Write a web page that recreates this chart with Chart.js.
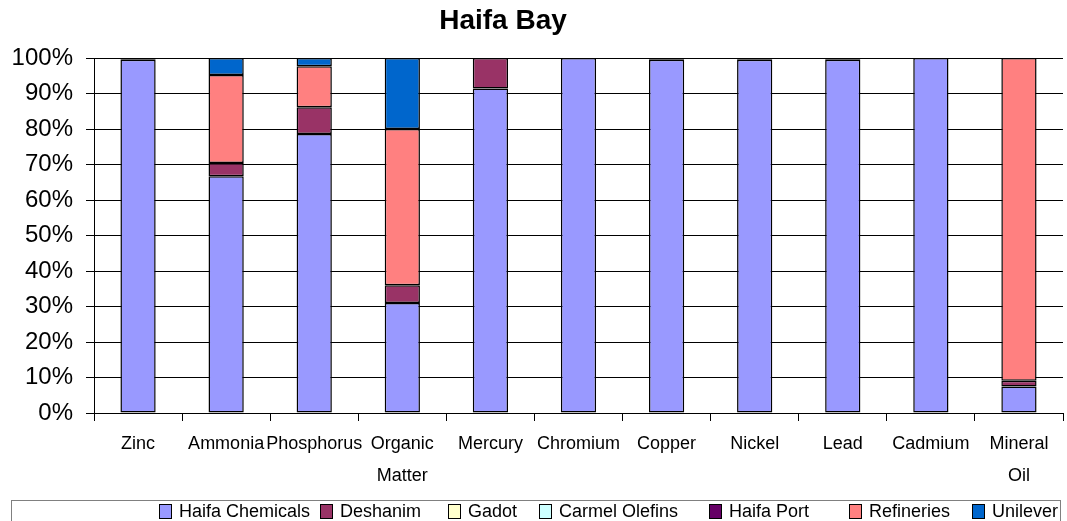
<!DOCTYPE html>
<html>
<head>
<meta charset="utf-8">
<title>Haifa Bay</title>
<script src="https://cdn.jsdelivr.net/npm/chart.js@4/dist/chart.umd.min.js"></script>
<style>
  html, body { margin: 0; padding: 0; background: #fff; }
  canvas { display: block; }
</style>
</head>
<body>
<canvas id="chart" width="1067" height="521"></canvas>
<script>
// categories (x axis)
const categories = ['Zinc', 'Ammonia', 'Phosphorus', ['Organic', 'Matter'], 'Mercury', 'Chromium',
  'Copper', 'Nickel', 'Lead', 'Cadmium', ['Mineral', 'Oil']];

// share of each source, percent
const haifaChemicals = [99.5, 66.7, 78.6, 31, 91.4, 100, 99.5, 99.5, 99.5, 100, 7.5];
const deshanim = [0, 3.7, 7.5, 5, 8.6, 0, 0, 0, 0, 0, 1.6];
const gadot = [0, 0, 0, 0, 0, 0, 0, 0, 0, 0, 0];
const carmelOlefins = [0, 0, 0, 0, 0, 0, 0, 0, 0, 0, 0];
const haifaPort = [0.5, 0, 0, 0, 0, 0, 0.5, 0.5, 0.5, 0, 0];
const refineries = [0, 24.8, 11.6, 44, 0, 0, 0, 0, 0, 0, 90.9];
const unilever = [0, 4.8, 2.3, 20, 0, 0, 0, 0, 0, 0, 0];

const seriesNames = ['Haifa Chemicals', 'Deshanim', 'Gadot', 'Carmel Olefins', 'Haifa Port', 'Refineries', 'Unilever'];
const seriesValues = [haifaChemicals, deshanim, gadot, carmelOlefins, haifaPort, refineries, unilever];
const seriesColors = ['#9999FF', '#993366', '#FFFFCC', '#CCFFFF', '#660066', '#FF8080', '#0066CC'];

// y axis ticks
const yTicks = [0, 10, 20, 30, 40, 50, 60, 70, 80, 90, 100];

// where each legend entry starts (Excel spaces them unevenly)
const legendX = [159, 320, 448, 539, 709, 849, 972];

Chart.defaults.font.family = '"Liberation Sans", Arial, sans-serif';
Chart.defaults.color = '#000';

// title and boxed legend, drawn the way Excel places them
const excelBits = {
  id: 'excelBits',
  afterDraw(chart) {
    const ctx = chart.ctx;
    ctx.save();
    ctx.fillStyle = '#000';
    ctx.font = 'bold 28px "Liberation Sans", Arial, sans-serif';
    ctx.textAlign = 'center';
    ctx.textBaseline = 'middle';
    ctx.fillText('Haifa Bay', 503, 21);

    // legend frame
    ctx.strokeStyle = '#808080';
    ctx.lineWidth = 1;
    ctx.strokeRect(11.5, 500.5, 1049, 30);

    ctx.font = '18px "Liberation Sans", Arial, sans-serif';
    ctx.textAlign = 'left';
    chart.data.datasets.forEach((ds, i) => {
      const x = legendX[i];
      ctx.fillStyle = ds.backgroundColor;
      ctx.fillRect(x + 0.5, 504.5, 12, 14);
      ctx.strokeStyle = '#000';
      ctx.strokeRect(x + 0.5, 504.5, 12, 14);
      ctx.fillStyle = '#000';
      ctx.fillText(ds.label, x + 20, 512);
    });
    ctx.restore();
  }
};

new Chart(document.getElementById('chart'), {
  type: 'bar',
  data: {
    labels: categories,
    datasets: seriesNames.map((name, i) => ({
      label: name,
      data: seriesValues[i],
      backgroundColor: seriesColors[i],
      borderColor: '#000',
      borderWidth: 1.5,
      borderSkipped: false,
      barPercentage: 0.4,
      categoryPercentage: 1
    }))
  },
  options: {
    responsive: false,
    animation: false,
    layout: { padding: { top: 58, right: 4, bottom: 21, left: 0 } },
    plugins: {
      legend: { display: false },
      title: { display: false },
      tooltip: { enabled: false }
    },
    scales: {
      x: {
        stacked: true,
        afterFit: s => { s.height = 87; },
        grid: { drawOnChartArea: false, color: '#000', tickLength: 8 },
        border: { color: '#000' },
        ticks: {
          autoSkip: false,
          maxRotation: 0,
          minRotation: 0,
          padding: 7,
          font: { size: 18, lineHeight: 1.78 }
        }
      },
      y: {
        stacked: true,
        min: 0,
        max: 100,
        afterFit: s => { s.width = 94; },
        afterBuildTicks: s => { s.ticks = yTicks.map(v => ({ value: v })); },
        grid: { color: '#000', tickColor: '#000', tickLength: 8 },
        border: { color: '#000' },
        ticks: {
          padding: 13,
          font: { size: 24 },
          callback: v => v + '%'
        }
      }
    }
  },
  plugins: [excelBits]
});
</script>
</body>
</html>
